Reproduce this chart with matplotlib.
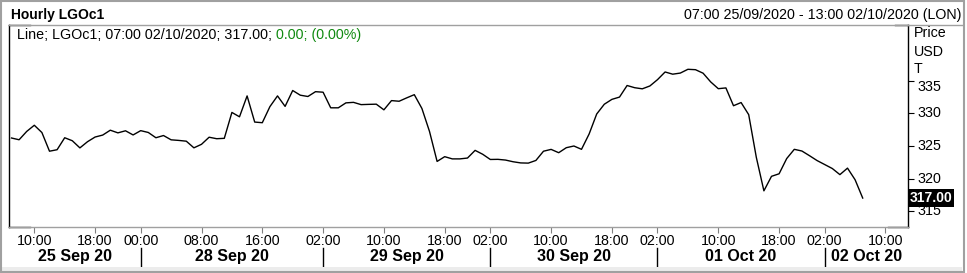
import numpy as np
import matplotlib
matplotlib.use("Agg")
import matplotlib.pyplot as plt
import matplotlib.transforms as mtransforms
from matplotlib.patches import Rectangle

plt.rcParams['font.family'] = ['Liberation Sans', 'DejaVu Sans']

# ---------- Data ----------
# hourly LGOc1 closes, 25 Sep 07:00 -> 02 Oct 07:00 (trading hours only)
price = [
    326.23, 325.96, 327.24, 328.19, 327.07, 324.20, 324.43, 326.27, 325.81, 324.71,
    325.66, 326.38, 326.68, 327.43, 327.02, 327.34, 326.70, 327.36, 327.08, 326.27,
    326.61, 325.95, 325.86, 325.74, 324.72, 325.26, 326.35, 326.12, 326.18, 330.16,
    329.49, 332.70, 328.68, 328.58, 331.05, 332.70, 331.09, 333.53, 332.81, 332.61,
    333.35, 333.27, 330.87, 330.87, 331.63, 331.71, 331.36, 331.40, 331.43, 330.56,
    331.98, 331.88, 332.40, 332.89, 330.77, 327.24, 322.63, 323.36, 323.02, 323.02,
    323.15, 324.33, 323.73, 322.93, 322.95, 322.84, 322.58, 322.40, 322.37, 322.78,
    324.20, 324.48, 323.97, 324.74, 325.00, 324.49, 326.84, 329.92, 331.42, 332.17,
    332.52, 334.30, 333.96, 333.79, 334.23, 335.20, 336.38, 336.04, 336.21, 336.79,
    336.73, 336.19, 334.85, 333.81, 333.93, 331.19, 331.68, 329.82, 323.27, 318.11,
    320.34, 320.73, 323.07, 324.49, 324.23, 323.51, 322.76, 322.15, 321.54, 320.60,
    321.60, 319.81, 317.00,
]
# trading-hour index, 0 = 25 Sep 10:00
hour_idx = np.arange(-3, -3 + len(price))

hour_ticks = [0, 8, 14, 22, 30, 38, 46, 54, 60, 68, 76, 82, 90, 98, 104, 112]
hour_labels = ["10:00", "18:00", "00:00", "08:00", "16:00", "02:00", "10:00", "18:00",
               "02:00", "10:00", "18:00", "02:00", "10:00", "18:00", "02:00", "10:00"]
day_breaks = [14, 38, 60, 82, 104]
day_labels = ["25 Sep 20", "28 Sep 20", "29 Sep 20", "30 Sep 20", "01 Oct 20", "02 Oct 20"]

price_ticks = [315, 320, 325, 330, 335]
last_price = 317.00

# ---------- Plotting ----------
W, H = 967, 273
fs = 10.3
fig = plt.figure(figsize=(W / 100, H / 100), dpi=100)
fig.patch.set_facecolor("white")

ax = fig.add_axes([9 / W, (H - 227) / H, (908 - 9) / W, (227 - 25) / H])
ax.plot(hour_idx, price, color="black", lw=1.0)
ax.set_xlim((9 - 34.3) / 7.6, (908 - 34.3) / 7.6)
ax.set_ylim(312.55, 343.6)

grey = "#a0a0a0"
for side in ["left", "right"]:
    ax.spines[side].set_color("black")
    ax.spines[side].set_linewidth(1)
for side in ["top", "bottom"]:
    ax.spines[side].set_color(grey)
    ax.spines[side].set_linewidth(1)

# black corner pieces on the frame
for x0, x1, y in [(0, 0.0234, 1), (0.9855, 1, 1), (0, 0.0234, 0), (0.9778, 1, 0)]:
    ax.plot([x0, x1], [y, y], transform=ax.transAxes, color="black", lw=1, clip_on=False)

ax.set_xticks(hour_ticks)
ax.set_xticklabels(hour_labels, fontsize=fs)
ax.tick_params(axis="x", direction="out", length=4, color="#808080", pad=1.2)

ax.set_yticks(price_ticks)
ax.yaxis.tick_right()
ax.tick_params(axis="y", direction="out", length=4, color="black", labelright=False)

# y labels (top one nudged down below the "T")
for v in price_ticks:
    dy = -4.7 if v == 335 else 0
    ax.annotate(str(v), xy=(1, v), xycoords=("axes fraction", "data"),
                xytext=(6.5, dy), textcoords="offset points",
                ha="left", va="center", fontsize=fs)

ax.annotate(f"{last_price:.2f}", xy=(1, last_price), xycoords=("axes fraction", "data"),
            xytext=(1.2, 0), textcoords="offset points", ha="left", va="center",
            fontsize=10, fontweight="bold", color="white",
            bbox=dict(boxstyle="square,pad=0.12", fc="black", ec="none"))

# day separators and labels
trans = mtransforms.blended_transform_factory(ax.transData, ax.transAxes)
for b in day_breaks:
    ax.plot([b, b], [-0.104, -0.198], transform=trans, color="black", lw=1, clip_on=False)
x_lo, x_hi = ax.get_xlim()
bounds = [x_lo] + day_breaks + [x_hi]
for i, lab in enumerate(day_labels):
    ax.text((bounds[i] + bounds[i + 1]) / 2, -0.147, lab, transform=trans,
            ha="center", va="center", fontsize=11.5, fontweight="bold")

# header
fig.text(11 / W, 1 - 14.5 / H, "Hourly LGOc1", fontsize=10, fontweight="bold",
         ha="left", va="center")
fig.text(962 / W, 1 - 14.5 / H, "07:00 25/09/2020 - 13:00 02/10/2020 (LON)",
         fontsize=fs, ha="right", va="center")
fig.add_artist(plt.Line2D([908 / W, 963 / W], [1 - 25 / H, 1 - 25 / H], color=grey, lw=1))

# legend line
t1 = fig.text(17 / W, 1 - 35 / H, "Line; LGOc1; 07:00 02/10/2020; 317.00; ",
              fontsize=fs, ha="left", va="center")
fig.canvas.draw()
bb = t1.get_window_extent(renderer=fig.canvas.get_renderer())
fig.text(bb.x1 / W, 1 - 35 / H, "0.00; (0.00%)", fontsize=fs, color="#108a10",
         ha="left", va="center")

# axis unit labels
for txt, yy in [("Price", 33), ("USD", 52), ("T", 69)]:
    fig.text(914 / W, 1 - yy / H, txt, fontsize=fs, ha="left", va="center")

# bottom strip and outer frame
fig.add_artist(Rectangle((0, 2 / H), 962 / W, 4 / H, transform=fig.transFigure,
                         fc="#ececec", ec="none"))
fig.add_artist(Rectangle((0.001, 0.002), 0.996, 0.995, transform=fig.transFigure,
                         fill=False, ec=grey, lw=1.5))

fig.savefig("out.png", dpi=100)
